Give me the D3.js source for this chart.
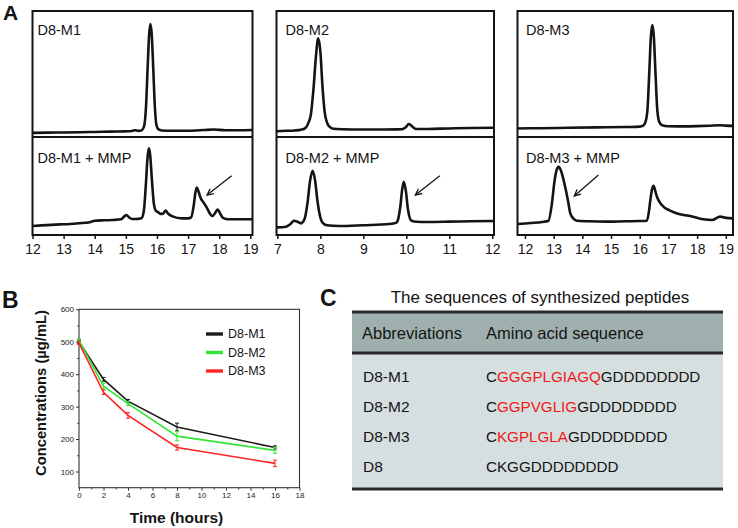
<!DOCTYPE html>
<html><head><meta charset="utf-8">
<script src="https://cdn.jsdelivr.net/npm/d3@7"></script>
<style>body{margin:0;background:#fff}svg{display:block}text{font-family:"Liberation Sans",Arial,sans-serif}</style>
</head><body>
<svg id="c" width="738" height="528"></svg>
<script>
// ---------- Panel A: HPLC traces (retention time, relative signal %) ----------
const m1Time = [12,12.5,13,13.5,14,14.5,15,15.2,15.3,15.4,15.5,15.58,15.65,15.7,15.75,15.79,15.83,15.88,15.93,15.98,16.05,16.15,16.5,17,17.5,17.8,18.2,18.6,19.07];
const m1Sig  = [3.3,3.5,3.6,3.8,4.0,4.3,4.5,4.8,5.4,4.9,5.2,8,25,55,82,89.7,82,55,25,10,6,5.2,5.0,5.0,5.5,5.9,5.4,5.3,5.5];
const m1MmpTime = [12,12.3,12.6,12.9,13.2,13.5,13.8,14.0,14.3,14.6,14.85,14.95,15.02,15.1,15.2,15.4,15.5,15.58,15.64,15.7,15.74,15.78,15.84,15.9,15.96,16.05,16.12,16.2,16.28,16.35,16.5,16.8,17.0,17.1,17.18,17.24,17.28,17.33,17.4,17.5,17.6,17.7,17.78,17.88,17.95,18.03,18.12,18.3,18.7,19.07];
const m1MmpSig  = [9.2,9.8,10.3,10.8,11.3,12,12.8,14.5,15,15.3,16,19,20.4,18,16.3,16.5,17,25,50,80,88.4,82,55,32,25,23,21.5,22,25,22,19,17,17,18,30,44,48.3,45,38,33,28,22,19.4,23,26,22,17.5,16,16,16];

const m2Time = [6.98,7.2,7.4,7.55,7.65,7.72,7.78,7.84,7.9,7.95,8.0,8.05,8.1,8.16,8.22,8.3,8.5,9.0,9.5,9.9,9.98,10.06,10.14,10.22,10.5,11.0,11.5,12.04];
const m2Sig  = [4.6,4.9,5.2,5.8,7,11,18,38,65,78.3,68,40,20,11,8,6.6,6.2,6.0,6.0,6.1,7.5,10.3,8.3,6.4,6.4,6.8,7.1,7.4];
const m2MmpTime = [6.98,7.2,7.3,7.39,7.47,7.55,7.63,7.7,7.76,7.82,7.88,7.93,8.0,8.05,8.15,8.43,9.0,9.61,9.77,9.82,9.86,9.9,9.94,9.99,10.04,10.12,10.25,10.47,11.0,11.5,12.04];
const m2MmpSig  = [7.8,8.5,11,14.6,13.5,11.9,16,32.3,55,65.6,55,35.7,18,12.6,10,9.2,10,11.2,12.6,18,28.9,45,54.4,45,25.5,14.6,13.5,13.3,13.6,14,14.3];

const m3Time = [11.74,12.5,13.5,14.5,15.5,16.0,16.12,16.2,16.27,16.33,16.39,16.44,16.49,16.55,16.61,16.68,16.78,17.0,17.5,18.0,18.4,18.8,19.0,19.25];
const m3Sig  = [6.8,7.0,7.3,7.6,7.9,8.2,9,12,22,50,80,88.9,80,50,22,12,9.3,8.5,8.4,8.6,8.9,9.3,9.0,8.8];
const m3MmpTime = [11.74,12.2,12.6,12.82,12.94,13.03,13.1,13.17,13.25,13.33,13.4,13.5,13.58,13.7,13.81,14.2,14.86,15.5,16.0,16.25,16.32,16.37,16.43,16.48,16.54,16.6,16.77,17.06,17.3,17.53,17.76,18.0,18.22,18.52,18.8,19.0,19.25];
const m3MmpSig  = [11.2,12.2,13.3,14.6,32.3,55,66,69.7,66,58,49.3,35,22.1,16.5,14.6,14,13.6,14,14.3,14.6,24,35.7,47,50.3,45,39,30.6,24.8,22,20.4,19.4,17.5,16,15.3,18.7,17.5,17];

const aTickLabels = [[12,13,14,15,16,17,18,19],[7,8,9,10,11,12],[12,13,14,15,16,17,18,19]];
const aDomains = [[12,19.07],[6.98,12.04],[11.74,19.25]];
const aLabelsTop = ["D8-M1","D8-M2","D8-M3"];
const aLabelsBottom = ["D8-M1 + MMP","D8-M2 + MMP","D8-M3 + MMP"];
// arrows (time, signal %) : tail -> head
const arrowTail = [[18.4,60.5],[10.78,60.5],[14.56,61.2]];
const arrowHead = [[17.61,40.8],[10.21,40.8],[13.72,39.8]];

// ---------- Panel B: concentration vs time ----------
const hours = [0,2,4,8,16];
const seriesNames = ["D8-M1","D8-M2","D8-M3"];
const concM1 = [500,384,317,237,174];
const concM2 = [504,363,309,209,165];
const concM3 = [496,344,273,174,125];
const errM1 = [5,6,5,12,5];
const errM2 = [5,9,6,14,9];
const errM3 = [5,7,9,8,10];
const bXTicks = [0,2,4,6,8,10,12,14,16,18];
const bYTicks = [100,200,300,400,500,600];

// ---------- Panel C: table ----------
const tableTitle = "The sequences of synthesized peptides";
const tableHeader = ["Abbreviations","Amino acid sequence"];
const abbreviations = ["D8-M1","D8-M2","D8-M3","D8"];
const seqPrefix = ["C","C","C","CKGGDDDDDDDD"];
const seqMotif  = ["GGGPLGIAGQ","GGPVGLIG","KGPLGLA",""];
const seqSuffix = ["GDDDDDDDD","GDDDDDDDD","GDDDDDDDD",""];

// ======================================================================
const svg = d3.select("#c");
const ink = "#141414";

// ---- Panel A ----
const frames = [{x0:32.5,x1:252.5,pad:5},{x0:276.5,x1:494,pad:9},{x0:517.5,x1:733,pad:8.5}];
const yTopA = 11, yMidA = 137, yBotA = 235;
const traces = [
  [[m1Time,m1Sig],[m1MmpTime,m1MmpSig]],
  [[m2Time,m2Sig],[m2MmpTime,m2MmpSig]],
  [[m3Time,m3Sig],[m3MmpTime,m3MmpSig]]
];
const yTop = d3.scaleLinear([0,100],[yMidA,yTopA]);
const yBot = d3.scaleLinear([0,100],[yBotA,yMidA]);

frames.forEach((f,i)=>{
  const x = d3.scaleLinear(aDomains[i],[f.x0,f.x1]);
  const g = svg.append("g");
  const cid = "clipA"+i;
  svg.append("clipPath").attr("id",cid).append("rect")
    .attr("x",f.x0).attr("y",yTopA).attr("width",f.x1-f.x0).attr("height",yBotA-yTopA);
  [yTop,yBot].forEach((ys,k)=>{
    const [tt,vv] = traces[i][k];
    const line = d3.line().x((d,j)=>x(tt[j])).y((d,j)=>ys(vv[j])).curve(d3.curveMonotoneX);
    g.append("path").attr("d",line(tt)).attr("fill","none").attr("stroke",ink)
      .attr("stroke-width",2.6).attr("stroke-linejoin","round").attr("clip-path",`url(#${cid})`);
  });
  g.append("rect").attr("x",f.x0).attr("y",yTopA).attr("width",f.x1-f.x0).attr("height",yBotA-yTopA)
    .attr("fill","none").attr("stroke",ink).attr("stroke-width",2);
  g.append("line").attr("x1",f.x0).attr("x2",f.x1).attr("y1",yMidA).attr("y2",yMidA)
    .attr("stroke",ink).attr("stroke-width",2);
  const ax = d3.axisBottom(x).tickValues(aTickLabels[i]).tickSize(3).tickPadding(5).tickFormat(d3.format("d"));
  const axg = g.append("g").attr("transform",`translate(0,${yBotA+1})`).call(ax);
  axg.select(".domain").remove();
  axg.selectAll("line").attr("stroke",ink).attr("stroke-width",1.5);
  axg.selectAll("text").attr("font-size",14).attr("fill",ink).attr("font-family","Liberation Sans, Arial, sans-serif");
  g.append("text").attr("x",f.x0+f.pad).attr("y",34.5).attr("font-size",14.5).attr("fill",ink).text(aLabelsTop[i]);
  g.append("text").attr("x",f.x0+f.pad).attr("y",162.5).attr("font-size",14.5).attr("fill",ink).text(aLabelsBottom[i]);
  const tx = x(arrowTail[i][0]), ty = yBot(arrowTail[i][1]);
  const hx = x(arrowHead[i][0]), hy = yBot(arrowHead[i][1]);
  g.append("line").attr("x1",tx).attr("y1",ty).attr("x2",hx).attr("y2",hy).attr("stroke",ink).attr("stroke-width",1.3);
  const ang = Math.atan2(hy-ty,hx-tx), L = 7, sp = 0.45;
  const p1 = [hx - L*Math.cos(ang-sp), hy - L*Math.sin(ang-sp)];
  const p2 = [hx - L*Math.cos(ang+sp), hy - L*Math.sin(ang+sp)];
  g.append("path").attr("d",`M${p1[0]},${p1[1]}L${hx},${hy}L${p2[0]},${p2[1]}`)
    .attr("fill","none").attr("stroke",ink).attr("stroke-width",1.3);
});
svg.append("text").attr("x",3).attr("y",20).attr("font-size",21).attr("font-weight","bold").attr("fill",ink).text("A");

// ---- Panel B ----
const bx = d3.scaleLinear([0,18],[79,299.5]);
const by = d3.scaleLinear([50,600],[487.7,309.3]);
const gb = svg.append("g");
gb.append("rect").attr("x",79).attr("y",309.3).attr("width",299.5-79).attr("height",487.7-309.3)
  .attr("fill","none").attr("stroke","#333").attr("stroke-width",1.1);
const xAx = gb.append("g").attr("transform","translate(0,487.7)")
  .call(d3.axisBottom(bx).tickValues(bXTicks).tickSize(3).tickPadding(2).tickFormat(d3.format("d")));
const xMinor = gb.append("g").attr("transform","translate(0,487.7)")
  .call(d3.axisBottom(bx).tickValues(d3.range(1,18,2)).tickSize(1.8).tickFormat(""));
const yAx = gb.append("g").attr("transform","translate(79,0)")
  .call(d3.axisLeft(by).tickValues(bYTicks).tickSize(3).tickPadding(2).tickFormat(d3.format("d")));
const yMinor = gb.append("g").attr("transform","translate(79,0)")
  .call(d3.axisLeft(by).tickValues(d3.range(150,600,100)).tickSize(1.8).tickFormat(""));
[xAx,xMinor,yAx,yMinor].forEach(a=>{
  a.select(".domain").remove();
  a.selectAll("line").attr("stroke","#333").attr("stroke-width",1);
  a.selectAll("text").attr("font-size",8).attr("fill","#222").attr("font-family","Liberation Sans, Arial, sans-serif");
});
gb.append("text").attr("x",176.5).attr("y",523).attr("text-anchor","middle").attr("font-size",15.5)
  .attr("font-weight","bold").attr("fill",ink).text("Time (hours)");
gb.append("text").attr("transform","translate(45.5,393) rotate(-90)").attr("text-anchor","middle")
  .attr("font-size",15.5).attr("font-weight","bold").attr("textLength",166).attr("lengthAdjust","spacingAndGlyphs")
  .attr("fill",ink).text("Concentrations (µg/mL)");

const bColors = ["#1c1c1c","#33e633","#ff2424"];
const concs = [concM1,concM2,concM3], errs = [errM1,errM2,errM3];
[0,1,2].forEach(s=>{
  const line = d3.line().x((d,j)=>bx(hours[j])).y(d=>by(d));
  gb.append("path").attr("d",line(concs[s])).attr("fill","none").attr("stroke",bColors[s]).attr("stroke-width",1.6);
  concs[s].forEach((v,j)=>{
    const cx = bx(hours[j]), y1 = by(v+errs[s][j]), y2 = by(v-errs[s][j]);
    gb.append("path").attr("d",`M${cx},${y1}V${y2}M${cx-2},${y1}H${cx+2}M${cx-2},${y2}H${cx+2}`)
      .attr("stroke",bColors[s]).attr("stroke-width",1).attr("fill","none");
  });
  const ly = 334 + s*18.5;
  gb.append("line").attr("x1",206).attr("x2",223).attr("y1",ly).attr("y2",ly).attr("stroke",bColors[s]).attr("stroke-width",3.4);
  gb.append("text").attr("x",228).attr("y",ly+4.3).attr("font-size",12.5).attr("fill",ink).text(seriesNames[s]);
});
svg.append("text").attr("x",2).attr("y",308).attr("font-size",23).attr("font-weight","bold").attr("fill",ink).text("B");

// ---- Panel C ----
const gc = svg.append("g");
const tX0 = 352, tX1 = 723, hTop = 312, hBot = 353, tBot = 489;
gc.append("rect").attr("x",tX0).attr("y",hTop).attr("width",tX1-tX0).attr("height",hBot-hTop).attr("fill","#9eafad");
gc.append("rect").attr("x",tX0).attr("y",hBot).attr("width",tX1-tX0).attr("height",tBot-hBot).attr("fill","#d6dfdf");
[hTop,hBot,tBot].forEach(y=>gc.append("line").attr("x1",tX0).attr("x2",tX1).attr("y1",y).attr("y2",y).attr("stroke","#2a2a2a").attr("stroke-width",2.8));
gc.append("text").attr("x",540).attr("y",302.5).attr("text-anchor","middle").attr("font-size",17).attr("fill",ink).text(tableTitle);
gc.append("text").attr("x",362).attr("y",339).attr("font-size",16.5).attr("fill",ink).text(tableHeader[0]);
gc.append("text").attr("x",486).attr("y",339).attr("font-size",16.5).attr("fill",ink).text(tableHeader[1]);
abbreviations.forEach((a,i)=>{
  const y = 381.7 + i*30.2;
  gc.append("text").attr("x",363).attr("y",y).attr("font-size",15.5).attr("fill",ink).text(a);
  const t = gc.append("text").attr("x",486).attr("y",y).attr("font-size",15.2).attr("fill",ink);
  t.append("tspan").text(seqPrefix[i]);
  if (seqMotif[i]) t.append("tspan").attr("fill","#f01818").text(seqMotif[i]);
  if (seqSuffix[i]) t.append("tspan").text(seqSuffix[i]);
});
svg.append("text").attr("x",320).attr("y",306).attr("font-size",23).attr("font-weight","bold").attr("fill",ink).text("C");
</script>
</body></html>
